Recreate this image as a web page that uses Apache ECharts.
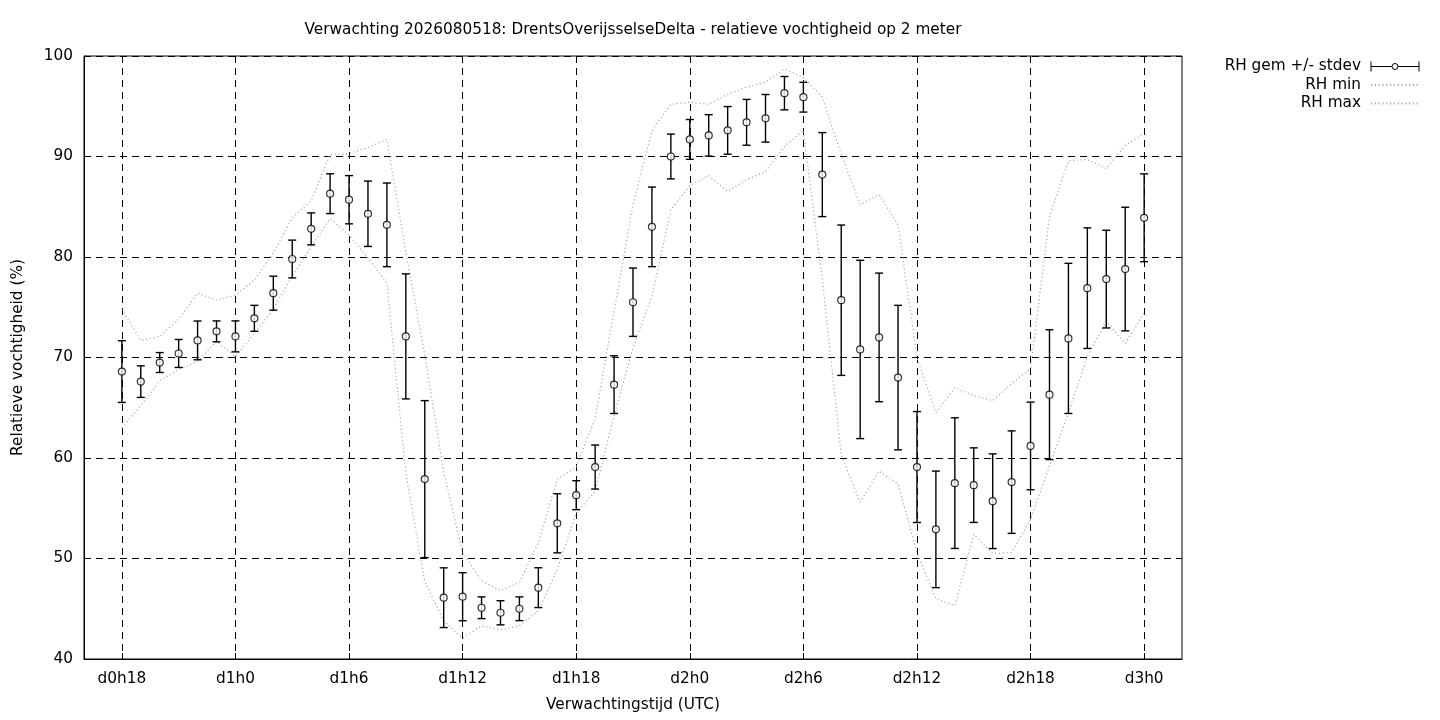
<!DOCTYPE html>
<html>
<head>
<meta charset="utf-8">
<script src="https://cdn.jsdelivr.net/npm/echarts@6/dist/echarts.min.js"></script>
<style>
html,body{margin:0;padding:0;background:#fff;}
#chart{width:1440px;height:720px;}
</style>
</head>
<body>
<div id="chart"></div>
<script>
// axis categories: forecast hours (range of the x axis)
var axisHours = [16,17,18,19,20,21,22,23,24,25,26,27,28,29,30,31,32,33,34,35,36,37,38,39,40,41,42,43,44,45,46,47,48,49,50,51,52,53,54,55,56,57,58,59,60,61,62,63,64,65,66,67,68,69,70,71,72,73,74];
// tick positions and labels
var tickHours = [18,24,30,36,42,48,54,60,66,72];
var tickLabels = ['d0h18','d1h0','d1h6','d1h12','d1h18','d2h0','d2h6','d2h12','d2h18','d3h0'];
// data hours
var hours = [18,19,20,21,22,23,24,25,26,27,28,29,30,31,32,33,34,35,36,37,38,39,40,41,42,43,44,45,46,47,48,49,50,51,52,53,54,55,56,57,58,59,60,61,62,63,64,65,66,67,68,69,70,71,72];
var rhMean = [68.6,67.6,69.5,70.4,71.7,72.6,72.1,73.9,76.4,79.8,82.8,86.3,85.7,84.3,83.2,72.1,57.9,46.1,46.2,45.1,44.6,45.0,47.1,53.5,56.3,59.1,67.3,75.5,83.0,90.0,91.7,92.1,92.6,93.4,93.8,96.3,95.9,88.2,75.7,70.8,72.0,68.0,59.1,52.9,57.5,57.3,55.7,57.6,61.2,66.3,71.9,76.9,77.8,78.8,83.9];
var rhStdev = [3.07,1.57,0.99,1.39,1.93,1.04,1.54,1.29,1.69,1.88,1.59,1.98,2.40,3.25,4.16,6.22,7.81,2.97,2.39,1.08,1.20,1.18,1.98,2.94,1.44,2.19,2.87,3.40,3.96,2.23,1.98,2.06,2.37,2.28,2.37,1.66,1.48,4.18,7.48,8.87,6.40,7.19,5.52,5.80,6.50,3.71,4.71,5.10,4.36,6.46,7.47,6.00,4.86,6.15,4.37];
var rhMin = [63.0,65.2,67.7,68.8,69.6,71.6,70.1,72.4,74.8,78.1,81.0,83.8,82.2,79.9,77.4,58.5,47.7,43.8,42.1,43.3,42.9,43.3,44.8,48.9,54.5,56.7,64.2,71.0,76.1,84.7,87.1,88.1,86.5,87.7,88.5,91.0,92.6,77.8,60.3,55.6,58.7,57.4,50.6,46.0,45.3,52.4,50.5,50.6,53.9,59.2,64.5,70.1,73.6,71.4,74.4];
var rhMax = [74.8,71.7,72.1,73.8,76.4,75.7,76.2,77.7,80.4,83.9,85.6,90.2,90.3,90.9,91.7,80.5,70.3,58.6,50.6,47.8,46.8,47.6,51.6,57.9,59.1,63.9,74.6,85.2,92.6,95.2,95.4,95.2,96.2,96.9,97.4,98.7,97.9,95.9,90.2,85.2,86.2,83.2,70.0,64.5,67.0,66.2,65.7,67.4,68.9,84.0,89.6,89.7,88.8,91.1,92.3];

var FONT = 'DejaVu Sans';
var FS = 15.3;
var categories = axisHours.map(String);
function isTick(index, value) { return tickHours.indexOf(Number(value)) >= 0; }

var errData = hours.map(function (h, i) {
  return [String(h), rhMean[i] - rhStdev[i], rhMean[i] + rhStdev[i]];
});
var meanData = hours.map(function (h, i) { return [String(h), rhMean[i]]; });
var minData = hours.map(function (h, i) { return [String(h), rhMin[i]]; });
var maxData = hours.map(function (h, i) { return [String(h), rhMax[i]]; });

var NAME_MEAN = 'RH gem +/- stdev';
var hiddenSymbol = {color: 'rgba(0,0,0,0)', borderColor: 'rgba(0,0,0,0)', borderWidth: 0};
var chart = echarts.init(document.getElementById('chart'), null, {renderer: 'canvas'});
chart.setOption({
  animation: false,
  backgroundColor: '#fff',
  textStyle: {fontFamily: FONT},
  title: {
    text: 'Verwachting 2026080518: DrentsOverijsselseDelta - relatieve vochtigheid op 2 meter',
    left: 633, top: 23, textAlign: 'center', padding: 0,
    textStyle: {fontFamily: FONT, fontSize: FS, fontWeight: 'normal', color: '#000'}
  },
  legend: {
    orient: 'vertical', right: 20, top: 59, align: 'right',
    itemWidth: 48, itemHeight: 10, itemGap: 3.5, padding: 0,
    textStyle: {fontFamily: FONT, fontSize: FS, color: '#000', padding: [0, 5, 0, 0]},
    data: [
      {name: NAME_MEAN,
       icon: 'path://M0,0L0,10M48,0L48,10M0,5L21,5M27,5L48,5M27,5A3,3,0,1,1,21,5A3,3,0,1,1,27,5Z',
       itemStyle: {color: '#fff', borderColor: '#000', borderWidth: 1}},
      {name: 'RH min', itemStyle: hiddenSymbol},
      {name: 'RH max', itemStyle: hiddenSymbol}
    ]
  },
  grid: {left: 84, right: 258, top: 56, bottom: 61, show: true, borderColor: '#000', borderWidth: 1, backgroundColor: 'transparent'},
  xAxis: {
    type: 'category', data: categories, boundaryGap: false,
    name: 'Verwachtingstijd (UTC)', nameLocation: 'middle', nameGap: 39,
    nameTextStyle: {fontFamily: FONT, fontSize: FS, color: '#000'},
    axisLine: {show: true, lineStyle: {color: '#000', width: 1}},
    axisTick: {show: true, inside: true, length: 6, interval: isTick, lineStyle: {color: '#000'}},
    axisLabel: {
      interval: isTick, margin: 13, color: '#000', fontFamily: FONT, fontSize: FS,
      formatter: function (v) { var k = tickHours.indexOf(Number(v)); return k >= 0 ? tickLabels[k] : ''; }
    },
    splitLine: {show: true, interval: isTick, lineStyle: {color: '#000', width: 1, type: [7, 5]}}
  },
  yAxis: {
    type: 'value', min: 40, max: 100, interval: 10,
    name: 'Relatieve vochtigheid (%)', nameLocation: 'middle', nameGap: 58,
    nameTextStyle: {fontFamily: FONT, fontSize: FS, color: '#000'},
    axisLine: {show: true, lineStyle: {color: '#000', width: 1}},
    axisTick: {show: true, inside: true, length: 6, lineStyle: {color: '#000'}},
    axisLabel: {margin: 11, color: '#000', fontFamily: FONT, fontSize: FS},
    splitLine: {show: true, lineStyle: {color: '#000', width: 1, type: [7, 5]}}
  },
  series: [
    {
      name: 'RH min', type: 'line', data: minData, symbol: 'none', z: 2,
      lineStyle: {color: '#a8a8a8', width: 1.2, type: [1.2, 2.6]}, itemStyle: {color: '#a8a8a8'}
    },
    {
      name: 'RH max', type: 'line', data: maxData, symbol: 'none', z: 2,
      lineStyle: {color: '#a8a8a8', width: 1.2, type: [1.2, 2.6]}, itemStyle: {color: '#a8a8a8'}
    },
    {
      name: NAME_MEAN, type: 'custom', data: errData, z: 3,
      encode: {x: 0, y: [1, 2]},
      itemStyle: {color: '#000'},
      renderItem: function (params, api) {
        var x = api.value(0);
        var lo = api.coord([x, api.value(1)]);
        var hi = api.coord([x, api.value(2)]);
        var w = 4;
        var st = {stroke: '#000', lineWidth: 1.4, fill: null};
        return {type: 'group', children: [
          {type: 'line', shape: {x1: lo[0], y1: lo[1], x2: hi[0], y2: hi[1]}, style: st},
          {type: 'line', shape: {x1: lo[0] - w, y1: lo[1], x2: lo[0] + w, y2: lo[1]}, style: st},
          {type: 'line', shape: {x1: hi[0] - w, y1: hi[1], x2: hi[0] + w, y2: hi[1]}, style: st}
        ]};
      }
    },
    {
      name: NAME_MEAN, type: 'scatter', data: meanData, z: 4,
      symbol: 'circle', symbolSize: 7,
      itemStyle: {color: '#fff', borderColor: '#000', borderWidth: 1.2}
    }
  ]
});
</script>
</body>
</html>
